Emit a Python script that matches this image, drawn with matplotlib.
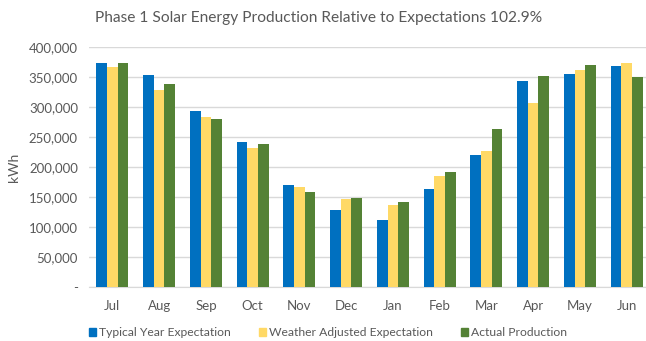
import matplotlib
matplotlib.use("Agg")
import matplotlib.pyplot as plt
import numpy as np
from matplotlib.ticker import FuncFormatter
from matplotlib.patches import Patch

months = ["Jul", "Aug", "Sep", "Oct", "Nov", "Dec", "Jan", "Feb", "Mar", "Apr", "May", "Jun"]
typical = [373000, 353000, 294000, 242000, 170000, 128000, 111000, 163000, 220000, 344000, 355000, 368000]
weather = [366000, 329000, 284000, 232000, 167000, 146000, 137000, 185000, 226000, 306000, 361000, 373000]
actual = [374000, 339000, 280000, 239000, 159000, 148000, 142000, 191000, 264000, 352000, 370000, 350000]
series_names = ["Typical Year Expectation", "Weather Adjusted Expectation", "Actual Production"]
colors = ["#0070C0", "#FFD966", "#548235"]
title = "Phase 1 Solar Energy Production Relative to Expectations 102.9%"

plt.rcParams['font.family'] = ['Lato', 'DejaVu Sans']
txt = "#595959"

W, H = 646, 341
fig = plt.figure(figsize=(W/100, H/100), dpi=100)
ax = fig.add_axes([89/W, (H-287)/H, (646-89)/W, (287-47)/H])

x = np.arange(len(months))
bw = 0.228
for i, (vals, c) in enumerate(zip([typical, weather, actual], colors)):
    ax.bar(x + (i-1)*bw, vals, width=bw, color=c, zorder=3)

ax.set_ylim(0, 400000)
ax.set_xlim(-0.5, 11.5 - 4/46.75)
ax.set_yticks(np.arange(0, 400001, 50000))
ax.yaxis.set_major_formatter(FuncFormatter(lambda v, p: "-" if v == 0 else f"{int(v):,}"))
ax.grid(axis='y', color='#d9d9d9', linewidth=1, zorder=0)
for s in ['top', 'right', 'left']:
    ax.spines[s].set_visible(False)
ax.spines['bottom'].set_color('#d9d9d9')
ax.set_xticks(x)
ax.set_xticklabels(months)
ax.tick_params(axis='both', length=0, colors=txt, labelsize=9.5)
ax.tick_params(axis='x', pad=9)
ax.tick_params(axis='y', pad=8)
ax.set_ylabel("kWh", color=txt, fontsize=10, labelpad=6)

fig.text(318.5/W, 1-18/H, title, ha='center', va='center', fontsize=11.2, color=txt)

handles = [Patch(color=c) for c in colors]
fig.legend(handles, series_names, loc='center', bbox_to_anchor=(328/W, 1-333/H), ncol=3,
           frameon=False, fontsize=8.7, handlelength=0.6, handleheight=0.6, handletextpad=0.25,
           columnspacing=2.3, labelcolor=txt)

fig.savefig("out.png", dpi=100)
